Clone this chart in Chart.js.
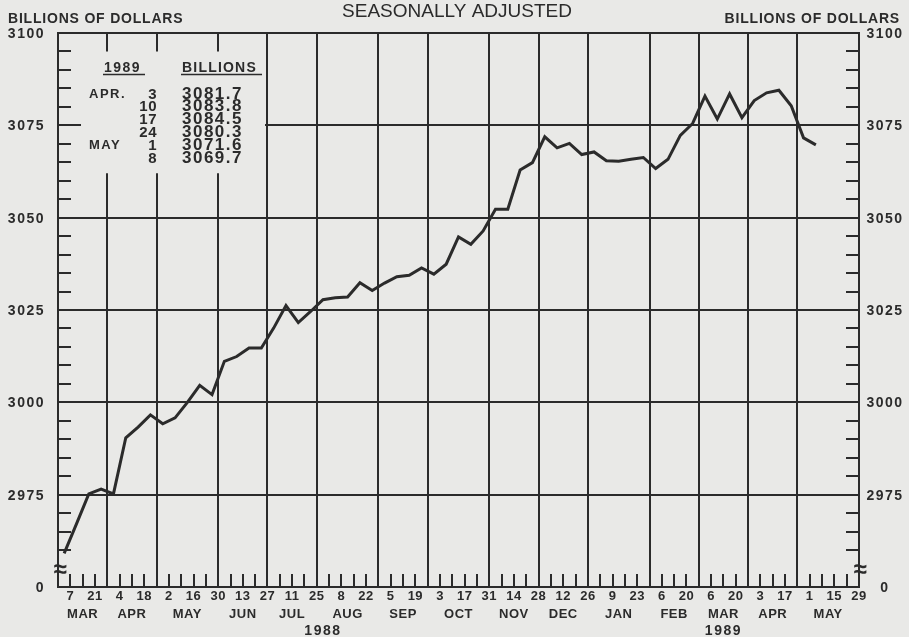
<!DOCTYPE html>
<html>
<head>
<meta charset="utf-8">
<script src="https://cdn.jsdelivr.net/npm/chart.js@4.4.1/dist/chart.umd.min.js"></script>
<style>
  html, body { margin: 0; padding: 0; background: #e9e9e7; }
  #wrap { width: 909px; height: 637px; }
</style>
</head>
<body>
<div id="wrap"><canvas id="myChart" width="909" height="637"></canvas></div>
<script>
// weekly values, billions of dollars, week of Mar 7 1988 .. May 8 1989
const values = [
  2959.1, 2967.1, 2975.2, 2976.5, 2975.2, 2990.4, 2993.3, 2996.6, 2994.2, 2995.8,
  3000.0, 3004.6, 3002.1, 3011.1, 3012.4, 3014.7, 3014.7, 3020.1, 3026.2, 3021.6,
  3024.6, 3027.8, 3028.3, 3028.5, 3032.4, 3030.3, 3032.3, 3034.0, 3034.4, 3036.4,
  3034.7, 3037.4, 3044.8, 3042.8, 3046.4, 3052.3, 3052.3, 3062.9, 3064.9, 3071.9,
  3068.9, 3070.1, 3067.1, 3067.8, 3065.4, 3065.3, 3065.8, 3066.3, 3063.3, 3065.8,
  3072.3, 3075.5, 3082.9, 3076.7, 3083.5, 3077.1, 3081.7, 3083.8, 3084.5, 3080.3,
  3071.6, 3069.7
];

// x axis: one unit per week, starting Monday Feb 29 1988
const dayLabels = ['7','21','4','18','2','16','30','13','27','11','25','8','22','5','19',
  '3','17','31','14','28','12','26','9','23','6','20','6','20','3','17','1','15','29'];
const months = ['MAR','APR','MAY','JUN','JUL','AUG','SEP','OCT','NOV','DEC','JAN','FEB','MAR','APR','MAY'];
const monthEnds = [4, 8, 13, 17, 21, 26, 30, 35, 39, 43, 48, 52, 56, 60, 65];
const years = ['1988', '1989'];

const yTicks = [2975, 3000, 3025, 3050, 3075, 3100];

// inset table
const tableYear = '1989';
const tableMonths = ['APR.', '', '', '', 'MAY', ''];
const tableDays = ['3', '10', '17', '24', '1', '8'];
const tableValues = values.slice(-6);

const INK = '#2b2b2b';
const FONT = '"Liberation Sans", Arial, sans-serif';

function seg(ctx, x0, y0, x1, y1) {
    ctx.beginPath();
    ctx.moveTo(x0, y0);
    ctx.lineTo(x1, y1);
    ctx.stroke();
}

function txt(ctx, s, x, y, font, align, spacing) {
    ctx.font = font;
    ctx.textAlign = align || 'center';
    ctx.letterSpacing = (spacing || 0) + 'px';
    ctx.fillText(s, x, y);
}

const paperGrid = {
    id: 'paperGrid',
    beforeDatasetsDraw(chart) {
        const {ctx, chartArea: a, scales: {x, y}} = chart;
        // table cut-out in the upper left corner
        const boxRight = x.getPixelForValue(16.8);
        const boxTop = y.getPixelForValue(3095);
        const boxBottom = y.getPixelForValue(3062);

        ctx.save();
        ctx.strokeStyle = INK;
        ctx.lineWidth = 2;

        yTicks.slice(0, -1).forEach(v => {
            const py = Math.round(y.getPixelForValue(v));
            const x0 = (py > boxTop && py < boxBottom) ? boxRight : a.left;
            seg(ctx, x0, py, a.right, py);
            if (x0 !== a.left) seg(ctx, a.left, py, a.left + 23, py);
        });

        monthEnds.slice(0, -1).forEach(w => {
            const px = Math.round(x.getPixelForValue(w));
            if (px < boxRight) {
                seg(ctx, px, a.top, px, boxTop);
                seg(ctx, px, boxBottom, px, a.bottom);
            } else {
                seg(ctx, px, a.top, px, a.bottom);
            }
        });

        // minor ticks every 5 billion, both sides
        for (let v = 2960; v < 3100; v += 5) {
            if (v % 25 === 0) continue;
            const py = Math.round(y.getPixelForValue(v));
            seg(ctx, a.left, py, a.left + 13, py);
            seg(ctx, a.right - 13, py, a.right, py);
        }

        // weekly ticks along the bottom
        for (let w = 1; w < 65; w++) {
            if (monthEnds.includes(w)) continue;
            const px = Math.round(x.getPixelForValue(w));
            seg(ctx, px, a.bottom, px, a.bottom - 13);
        }

        ctx.strokeRect(a.left, a.top, a.right - a.left, a.bottom - a.top);

        // axis breaks
        ctx.fillStyle = INK;
        ctx.textBaseline = 'middle';
        const pb = y.getPixelForValue(2955) + 2;
        txt(ctx, '\u2248', a.left + 2, pb, 'bold 24px ' + FONT);
        txt(ctx, '\u2248', a.right + 1, pb, 'bold 24px ' + FONT);
        ctx.restore();
    },
    afterDraw(chart) {
        const {ctx, chartArea: a, scales: {x, y}} = chart;
        ctx.save();
        ctx.fillStyle = INK;
        ctx.textBaseline = 'middle';

        // y labels
        yTicks.forEach(v => {
            const py = y.getPixelForValue(v) + 1;
            txt(ctx, String(v), 45, py, 'bold 14px ' + FONT, 'right', 1.5);
            txt(ctx, String(v), 885, py, 'bold 14px ' + FONT, 'center', 1.5);
        });
        txt(ctx, '0', 45, a.bottom + 1, 'bold 14px ' + FONT, 'right', 1.5);
        txt(ctx, '0', 885, a.bottom + 1, 'bold 14px ' + FONT, 'center', 1.5);

        // x labels
        dayLabels.forEach((d, i) => {
            txt(ctx, d, x.getPixelForValue(2 * i + 1), a.bottom + 9, 'bold 13px ' + FONT, 'center', 0.5);
        });
        let prev = 0;
        months.forEach((m, i) => {
            const mid = (prev + monthEnds[i]) / 2;
            txt(ctx, m, x.getPixelForValue(mid), a.bottom + 27, 'bold 13px ' + FONT, 'center', 0.5);
            prev = monthEnds[i];
        });
        txt(ctx, years[0], x.getPixelForValue(21.5), a.bottom + 44, 'bold 14px ' + FONT, 'center', 1.5);
        txt(ctx, years[1], x.getPixelForValue(54), a.bottom + 44, 'bold 14px ' + FONT, 'center', 1.5);

        // headings
        ctx.textBaseline = 'alphabetic';
        txt(ctx, 'BILLIONS OF DOLLARS', 8, 23, 'bold 14px ' + FONT, 'left', 0.8);
        txt(ctx, 'BILLIONS OF DOLLARS', 900, 23, 'bold 14px ' + FONT, 'right', 0.8);
        txt(ctx, 'SEASONALLY ADJUSTED', 457, 17, '19px ' + FONT, 'center', 0);

        // inset table
        ctx.lineWidth = 1.5;
        ctx.strokeStyle = INK;
        txt(ctx, tableYear, 104, 72, 'bold 14px ' + FONT, 'left', 1.5);
        seg(ctx, 103, 74.5, 145, 74.5);
        txt(ctx, 'BILLIONS', 182, 72, 'bold 14px ' + FONT, 'left', 1.2);
        seg(ctx, 181, 74.5, 262, 74.5);
        tableValues.forEach((v, i) => {
            const by = 98.5 + i * 12.9;
            if (tableMonths[i]) txt(ctx, tableMonths[i], 89, by - 1, 'bold 13px ' + FONT, 'left', 1.5);
            txt(ctx, tableDays[i], 157, by, 'bold 15px ' + FONT, 'right', 0.5);
            txt(ctx, v.toFixed(1), 182, by, 'bold 17px ' + FONT, 'left', 1.5);
        });
        ctx.restore();
    }
};

new Chart(document.getElementById('myChart'), {
    type: 'line',
    data: {
        datasets: [{
            data: values.map((v, i) => ({x: i + 0.5, y: v})),
            borderColor: INK,
            borderWidth: 3,
            pointRadius: 0,
            tension: 0,
            fill: false
        }]
    },
    options: {
        responsive: false,
        animation: false,
        layout: {padding: {left: 58, right: 50, top: 33, bottom: 50}},
        scales: {
            x: {type: 'linear', min: 0, max: 65, display: false},
            y: {min: 2950, max: 3100, display: false}
        },
        plugins: {
            legend: {display: false},
            tooltip: {enabled: false}
        }
    },
    plugins: [paperGrid]
});
</script>
</body>
</html>
